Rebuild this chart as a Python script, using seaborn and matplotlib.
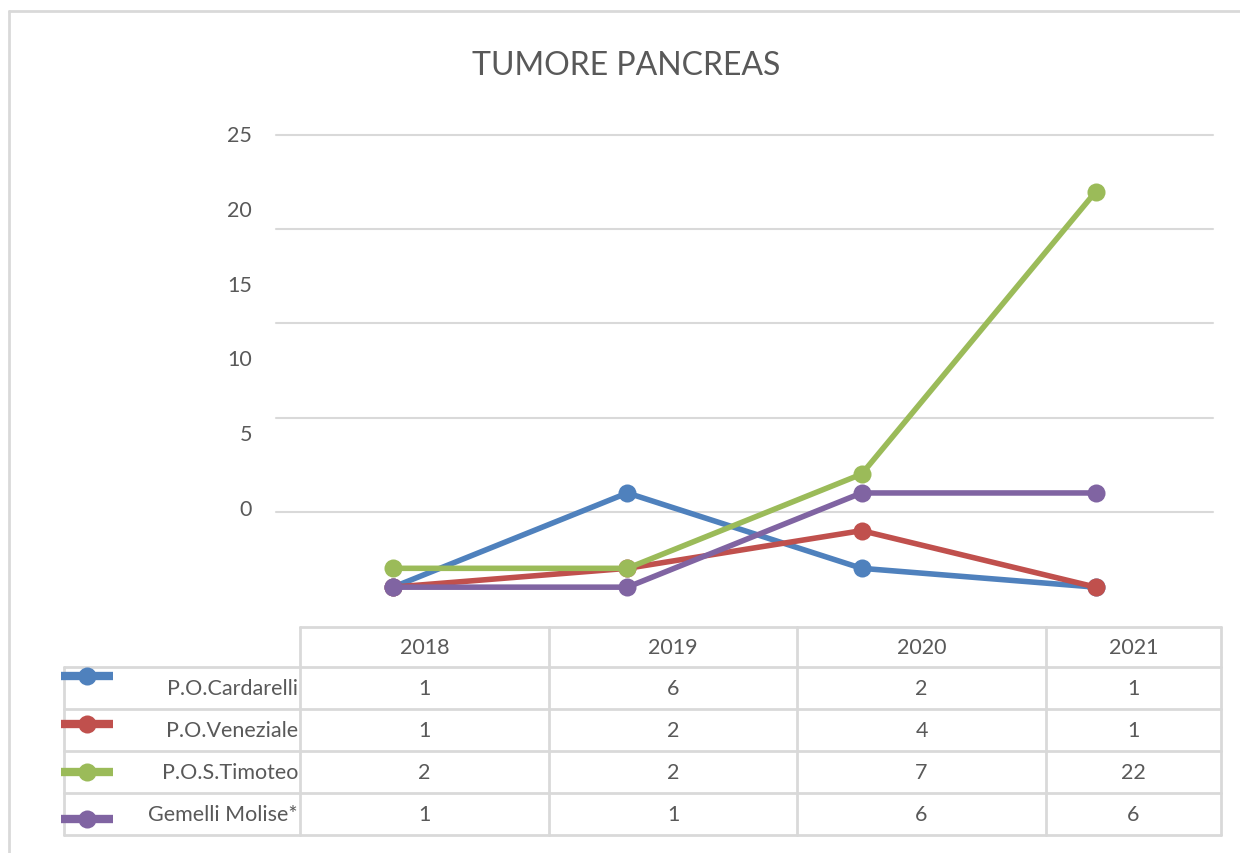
import matplotlib
matplotlib.use("Agg")
import matplotlib.pyplot as plt
import seaborn as sns
import pandas as pd
from matplotlib.lines import Line2D

# ---- data ----
years = ["2018", "2019", "2020", "2021"]
series_names = ["P.O.Cardarelli", "P.O.Veneziale", "P.O.S.Timoteo", "Gemelli Molise*"]
cardarelli = [1, 6, 2, 1]
veneziale = [1, 2, 4, 1]
timoteo = [2, 2, 7, 22]
gemelli = [1, 1, 6, 6]
series_values = [cardarelli, veneziale, timoteo, gemelli]
colors = ["#4F81BD", "#C0504D", "#9BBB59", "#8064A2"]
ytick_labels = [0, 5, 10, 15, 20, 25]
grid_values = [5, 10, 15, 20, 25]
title = "TUMORE PANCREAS"

rows = []
for name, vals in zip(series_names, series_values):
    for i, v in enumerate(vals):
        rows.append({"series": name, "idx": i, "value": v})
df = pd.DataFrame(rows)

sns.set_theme(style="white")
plt.rcParams["font.family"] = ["Lato", "DejaVu Sans"]
TXT = "#595959"
GRID = "#D9D9D9"
FS = 15.5

W, H = 1240, 854
fig = plt.figure(figsize=(W / 100, H / 100), dpi=100)

def fx(px):
    return px / W

def fy(py):
    return 1 - py / H

# plot area: x 276..1213, y value0 at 607, value25 at 136
ax = fig.add_axes([fx(276), fy(607), fx(1213) - fx(276), fy(136) - fy(607)])
ax.set_xlim(-0.5, 3.5)
ax.set_ylim(0, 25)
for g in grid_values:
    ax.axhline(g, color=GRID, lw=1.5, zorder=0)

sns.lineplot(data=df, x="idx", y="value", hue="series", hue_order=series_names,
             palette=colors, marker="o", markersize=13, markeredgewidth=0,
             linewidth=4.0, legend=False, ax=ax)
for ln in ax.lines:
    ln.set_clip_on(False)
ax.set_xticks([])
ax.set_yticks([])
ax.set_xlabel("")
ax.set_ylabel("")
for s in ax.spines.values():
    s.set_visible(False)
ax.patch.set_alpha(0)

# mis-aligned y labels as in reference
for k, lab in enumerate(ytick_labels):
    py = 510 - k * 74.8
    fig.text(fx(252), fy(py), str(lab), ha="right", va="center", fontsize=FS, color=TXT)

fig.text(fx(626), fy(66), title, ha="center", va="center", fontsize=23, color=TXT)

# outer border (left and top)
fig.add_artist(Line2D([fx(9), fx(9)], [fy(12), 0], color=GRID, lw=2))
fig.add_artist(Line2D([fx(9), 1], [fy(12), fy(12)], color=GRID, lw=2))

# data table
col_edges = [300, 549, 797, 1046, 1221]
row_edges = [628, 668, 710, 752, 794, 836]
lw_t = 2
fig.add_artist(Line2D([fx(300), fx(1221)], [fy(628), fy(628)], color=GRID, lw=lw_t))
for ry in row_edges[1:]:
    fig.add_artist(Line2D([fx(64), fx(1221)], [fy(ry), fy(ry)], color=GRID, lw=lw_t))
for cx in col_edges:
    fig.add_artist(Line2D([fx(cx), fx(cx)], [fy(628), fy(836)], color=GRID, lw=lw_t))
fig.add_artist(Line2D([fx(64), fx(64)], [fy(668), fy(836)], color=GRID, lw=lw_t))

for j, yr in enumerate(years):
    cx = (col_edges[j] + col_edges[j + 1]) / 2
    fig.text(fx(cx), fy(648), yr, ha="center", va="center", fontsize=FS, color=TXT)

legend_y = [677, 725, 773, 820]
for i, (name, vals, c) in enumerate(zip(series_names, series_values, colors)):
    ry = (row_edges[i + 1] + row_edges[i + 2]) / 2
    fig.text(fx(298), fy(ry), name, ha="right", va="center", fontsize=FS, color=TXT)
    for j, v in enumerate(vals):
        cx = (col_edges[j] + col_edges[j + 1]) / 2
        fig.text(fx(cx), fy(ry), str(v), ha="center", va="center", fontsize=FS, color=TXT)
    fig.add_artist(Line2D([fx(61), fx(113)], [fy(legend_y[i]), fy(legend_y[i])],
                          color=c, lw=6.0, solid_capstyle="butt"))
    fig.add_artist(Line2D([fx(87)], [fy(legend_y[i])], color=c, marker="o",
                          markersize=13, markeredgewidth=0, linestyle="none"))

fig.savefig("out.png", dpi=100, facecolor="white")
